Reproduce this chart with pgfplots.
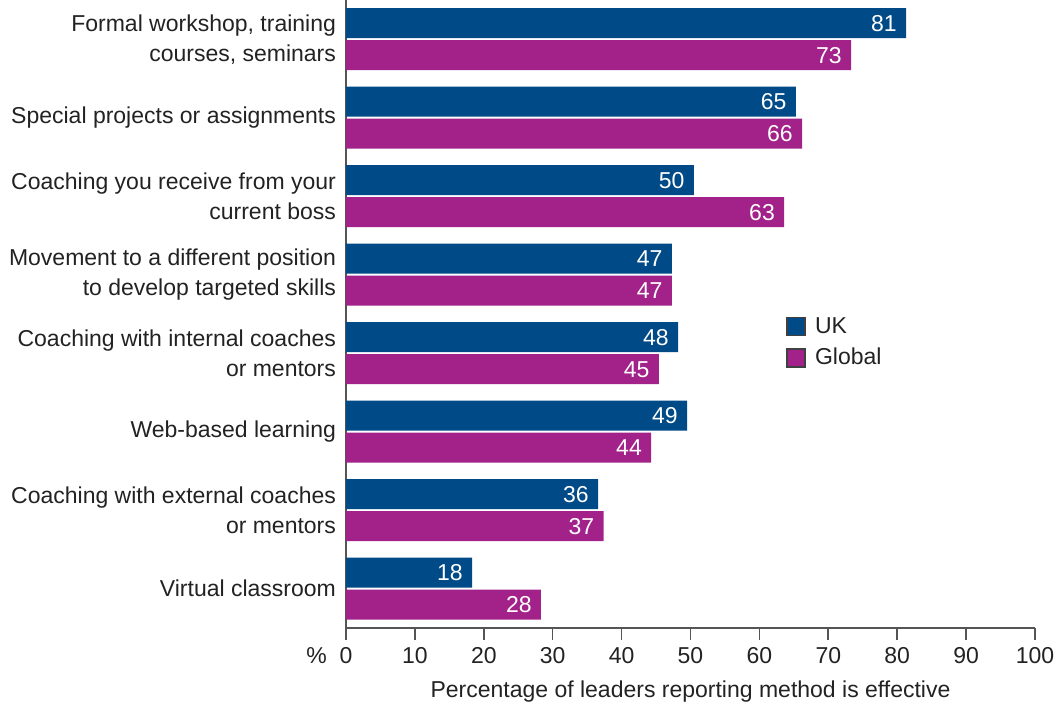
\documentclass[border=0pt]{standalone}
\usepackage{fontspec}
\setmainfont{Liberation Sans}
\usepackage{pgfplots}
\pgfplotsset{compat=1.18}
\definecolor{ukblue}{HTML}{004A87}
\definecolor{globpurple}{HTML}{A2228A}
\definecolor{axgrey}{HTML}{555555}
\definecolor{txt}{HTML}{222222}
\begin{document}
\begin{tikzpicture}
\begin{axis}[
  name=ax,
  scale only axis,
  width=344.5pt, height=314pt,
  xbar, bar width=15pt,
  xmin=0, xmax=100,
  ymin=-0.5, ymax=7.5,
  y dir=reverse,
  axis x line*=bottom, axis y line*=left,
  axis line style={axgrey, line width=0.8pt},
  xtick={0,10,...,100},
  ytick={0,...,7},
  yticklabels={{Formal workshop, training\\courses, seminars},
               {Special projects or assignments},
               {Coaching you receive from your\\current boss},
               {Movement to a different position\\to develop targeted skills},
               {Coaching with internal coaches\\or mentors},
               {Web-based learning},
               {Coaching with external coaches\\or mentors},
               {Virtual classroom}},
  yticklabel style={align=right, font=\fontsize{11.5}{15}\selectfont, text=txt, xshift=4.5pt},
  major y tick style={draw=none},
  x tick style={axgrey, line width=0.8pt},
  tick align=outside,
  major tick length=6pt,
  xticklabel style={font=\fontsize{11.5}{14}\selectfont, text=txt},
  /pgf/number format/assume math mode=true,
  xlabel={Percentage of leaders reporting method is effective},
  xlabel style={font=\fontsize{11.5}{14}\selectfont, text=txt, yshift=-2pt},
  point meta=explicit symbolic,
  nodes near coords,
  every node near coord/.append style={anchor=east, text=white, inner sep=0pt, xshift=-4.5pt, font=\fontsize{11.5}{14}\selectfont},
  legend style={at={(0.63,0.508)}, anchor=north west, draw=none, fill=none,
    font=\fontsize{11.5}{14}\selectfont, text=txt, row sep=2pt},
  legend cell align=left,
  legend image code/.code={\draw[#1, draw=black!75, line width=0.6pt] (0pt,-4.5pt) rectangle (9pt,4.5pt); \path (12pt,0pt);},
]
\addplot[fill=ukblue, draw=none, bar shift=8pt] coordinates {
(81.3,0) [81] (65.3,1) [65] (50.5,2) [50] (47.3,3) [47] (48.2,4) [48] (49.5,5) [49] (36.6,6) [36] (18.3,7) [18]};
\addplot[fill=globpurple, draw=none, bar shift=-8pt] coordinates {
(73.3,0) [73] (66.2,1) [66] (63.6,2) [63] (47.3,3) [47] (45.4,4) [45] (44.3,5) [44] (37.4,6) [37] (28.3,7) [28]};
\legend{UK, Global}
\end{axis}
\node[anchor=base east, font=\fontsize{11.5}{14}\selectfont, text=txt] at ([xshift=-6pt, yshift=-18pt]ax.south west) {\%};
\pgfresetboundingbox
\path ([xshift=-173pt, yshift=-38.5pt]ax.south west) rectangle ([xshift=13pt]ax.north east);
\end{tikzpicture}
\end{document}
